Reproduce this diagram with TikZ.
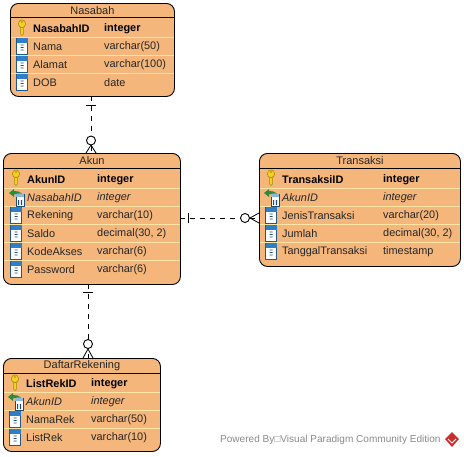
\documentclass[tikz,border=0pt]{standalone}
\usepackage{fontspec}
\setmainfont{Liberation Sans}
\definecolor{tablefill}{HTML}{F4B67B}
\definecolor{rowline}{HTML}{FBE6A6}
\definecolor{keyfill}{HTML}{F5D020}
\definecolor{keyline}{HTML}{A88A10}
\definecolor{colblue}{HTML}{2F7FC8}
\definecolor{fkgreen}{HTML}{2E8B3A}
\definecolor{footgrey}{HTML}{8A8A8A}
\definecolor{logored}{HTML}{C8302E}
\tikzset{
  tablebox/.style={draw=black,line width=0.9pt,fill=tablefill,rounded corners=8pt,inner sep=0pt,anchor=north west},
  tabletitle/.style={font=\fontsize{11}{12}\selectfont,inner sep=0pt,anchor=center,text=black!85},
  fieldtext/.style={font=\fontsize{10.9}{12}\selectfont,inner sep=0pt,anchor=west,text=black!85},
  keytext/.style={fieldtext,font=\fontsize{10.9}{12}\selectfont\bfseries,text=black},
  fktext/.style={fieldtext,font=\fontsize{10.9}{12}\selectfont\itshape},
  headrule/.style={draw=black,line width=0.9pt},
  rowrule/.style={draw=rowline,line width=0.9pt},
  relation/.style={draw=black,line width=0.8pt,dash pattern=on 5pt off 5pt},
  relmark/.style={draw=black,line width=0.8pt},
  relring/.style={draw=black,line width=0.9pt,fill=white,circle,minimum size=9pt,inner sep=0pt},
  footer/.style={font=\fontsize{10.05}{12}\selectfont,text=footgrey,inner sep=0pt,anchor=west}
}
% #1 name, #2 x, #3 y, #4 w, #5 h, #6 title, #7 header rule y
\newcommand{\tbl}[7]{%
  \node[tablebox,minimum width=#4pt,minimum height=#5pt] (#1) at (#2,#3) {};
  \node[tabletitle] (#1title) at ($(#1.north)+(0,8)$) {#6};
  \draw[headrule] (#2,#7) -- ++(#4,0);
}
% #1 x, #2 yc
\newcommand{\keyicon}[2]{%
  \begin{scope}[shift={(#1,#2)}]
    \fill[keyfill,draw=keyline,line width=0.5pt] (-1.6,-2) -- (-1.6,6) -- (0,7.5) -- (1.6,6) -- (1.6,-2) -- cycle;
    \fill[keyfill,draw=keyline,line width=0.6pt] (0,-4.2) ellipse (3.6 and 3.9);
    \fill[keyline] (0,-6) ellipse (1.2 and 0.8);
  \end{scope}}
\newcommand{\colicon}[2]{%
  \begin{scope}[shift={(#1,#2)}]
    \fill[white,draw=colblue!70!black,line width=0.5pt] (-5.5,-8) rectangle (5.5,8);
    \fill[colblue] (-5.5,-8) rectangle (5.5,-3.5);
    \fill[colblue!60!black] (-1.5,-1.5) rectangle (1.5,-0.7) (-1.5,1) rectangle (1.5,1.8) (-1.5,3.5) rectangle (1.5,4.3);
  \end{scope}}
\newcommand{\fkicon}[2]{%
  \begin{scope}[shift={(#1,#2)}]
    \fill[white,draw=colblue!60!black,line width=0.5pt] (0,-3) rectangle (8,9);
    \fill[colblue!55] (0,-3) rectangle (8,0);
    \fill[colblue!60!black] (2,3) rectangle (3.2,8) (4.8,3) rectangle (6,8);
    \fill[fkgreen] (-7,-4) -- (-2,-8) -- (-2,-6) .. controls (1,-6) and (4,-5.5) .. (6,-3.5) .. controls (3,-4) and (0,-3) .. (-2,-2.5) -- (-2,0) -- cycle;
  \end{scope}}
\usetikzlibrary{calc}
\begin{document}
\begin{tikzpicture}[x=1pt,y=-1pt]
\useasboundingbox (0,0) rectangle (464,456);
% ---- Nasabah
\tbl{nasabah}{10}{3}{164}{93}{Nasabah}{17}
\draw[rowrule] (10.5,37) -- (173.5,37) (10.5,55) -- (173.5,55) (10.5,73) -- (173.5,73);
\keyicon{22}{28}\colicon{22}{46}\colicon{22}{64}\colicon{22}{82}
\node[keytext] (n1a) at (33,29) {NasabahID};
\node[keytext] (n1b) at (104,29) {integer};
\node[fieldtext] (n2a) at (33,47) {Nama};
\node[fieldtext] (n2b) at (104,47) {varchar(50)};
\node[fieldtext] (n3a) at (33,65) {Alamat};
\node[fieldtext] (n3b) at (104,65) {varchar(100)};
\node[fieldtext] (n4a) at (33,83) {DOB};
\node[fieldtext] (n4b) at (104,83) {date};
% ---- Akun
\tbl{akun}{3}{153}{177}{131}{Akun}{168}
\draw[rowrule] (3.5,188) -- (179.5,188) (3.5,206) -- (179.5,206) (3.5,224) -- (179.5,224) (3.5,242) -- (179.5,242) (3.5,260) -- (179.5,260);
\keyicon{16}{178}\fkicon{16}{197}\colicon{16}{215}\colicon{16}{233}\colicon{16}{251}\colicon{16}{269}
\node[keytext] (a1a) at (27,180) {AkunID};
\node[keytext] (a1b) at (97,180) {integer};
\node[fktext] (a2a) at (27,198) {NasabahID};
\node[fktext] (a2b) at (97,198) {integer};
\node[fieldtext] (a3a) at (27,216) {Rekening};
\node[fieldtext] (a3b) at (97,216) {varchar(10)};
\node[fieldtext] (a4a) at (27,234) {Saldo};
\node[fieldtext] (a4b) at (97,234) {decimal(30, 2)};
\node[fieldtext] (a5a) at (27,252) {KodeAkses};
\node[fieldtext] (a5b) at (97,252) {varchar(6)};
\node[fieldtext] (a6a) at (27,270) {Password};
\node[fieldtext] (a6b) at (97,270) {varchar(6)};
% ---- Transaksi
\tbl{transaksi}{259}{153}{201}{113}{Transaksi}{168}
\draw[rowrule] (259.5,188) -- (459.5,188) (259.5,206) -- (459.5,206) (259.5,224) -- (459.5,224) (259.5,242) -- (459.5,242);
\keyicon{271}{178}\fkicon{271}{197}\colicon{271}{215}\colicon{271}{233}\colicon{271}{251}
\node[keytext] (t1a) at (282,179.5) {TransaksiID};
\node[keytext] (t1b) at (383,179.5) {integer};
\node[fktext] (t2a) at (282,197.5) {AkunID};
\node[fktext] (t2b) at (383,197.5) {integer};
\node[fieldtext] (t3a) at (282,215.5) {JenisTransaksi};
\node[fieldtext] (t3b) at (383,215.5) {varchar(20)};
\node[fieldtext] (t4a) at (282,233.5) {Jumlah};
\node[fieldtext] (t4b) at (383,233.5) {decimal(30, 2)};
\node[fieldtext] (t5a) at (282,251.5) {TanggalTransaksi};
\node[fieldtext] (t5b) at (383,251.5) {timestamp};
% ---- DaftarRekening
\tbl{daftar}{3}{358}{157}{93}{DaftarRekening}{373}
\draw[rowrule] (3.5,392) -- (159.5,392) (3.5,410) -- (159.5,410) (3.5,428) -- (159.5,428);
\keyicon{15}{383}\fkicon{15}{401}\colicon{15}{419}\colicon{15}{437}
\node[keytext] (d1a) at (26,384) {ListRekID};
\node[keytext] (d1b) at (91,384) {integer};
\node[fktext] (d2a) at (26,402) {AkunID};
\node[fktext] (d2b) at (91,402) {integer};
\node[fieldtext] (d3a) at (26,420) {NamaRek};
\node[fieldtext] (d3b) at (91,420) {varchar(50)};
\node[fieldtext] (d4a) at (26,438) {ListRek};
\node[fieldtext] (d4b) at (91,438) {varchar(10)};
% ---- Relations
\coordinate (r1s) at (91,96); \coordinate (r1e) at (91,153);
\draw[relation] (r1s) -- (r1e);
\draw[relmark] (86,105) -- (96,105);
\draw[relmark] (86,153) -- (91,145) -- (96,153);
\node[relring] (r1o) at (91,140.5) {};
\coordinate (r2s) at (180,218); \coordinate (r2e) at (259,218);
\draw[relation] (r2s) -- (r2e);
\draw[relmark] (188,213) -- (188,223);
\draw[relmark] (259,213) -- (250,218) -- (259,223);
\node[relring] (r2o) at (245,218) {};
\coordinate (r3s) at (88,284); \coordinate (r3e) at (88,358);
\draw[relation] (r3s) -- (r3e);
\draw[relmark] (83,292) -- (93,292);
\draw[relmark] (83,358) -- (88,349) -- (93,358);
\node[relring] (r3o) at (88,344) {};
% ---- Footer
\node[footer] (foot) at (220,440) {Powered By□Visual Paradigm Community Edition};
\fill[logored] (452,432) -- (459,439) -- (452,447) -- (445,439) -- cycle;
\draw[white,line width=1pt] (448,439) -- (452,443) -- (456,439);
\end{tikzpicture}
\end{document}
